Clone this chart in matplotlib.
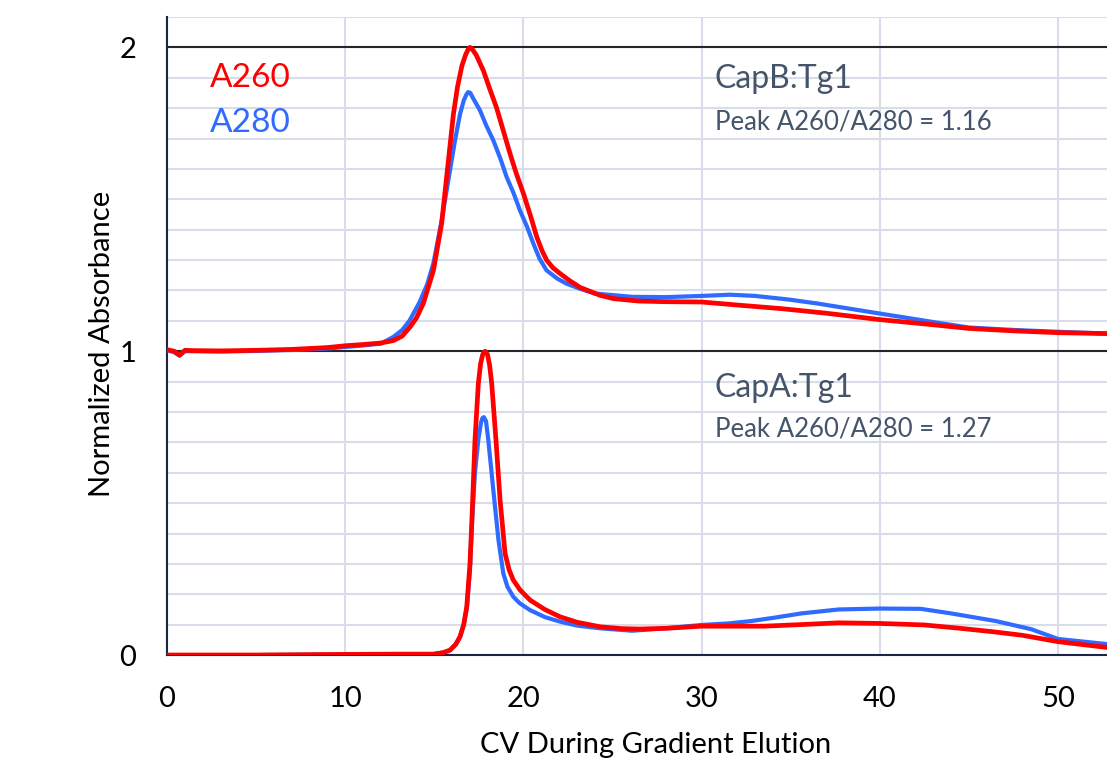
import matplotlib
matplotlib.use('Agg')
import matplotlib.pyplot as plt
import numpy as np

plt.rcParams['font.family'] = ['Lato', 'DejaVu Sans']

RED = '#FF0000'
BLUE = '#2F6BFF'
NOTE = '#44546A'
GRID = '#D9DCE9'

# CapB:Tg1 traces (normalized, drawn shifted up by 1)
capb_offset = 1.0
capb_a260_x = [0, 0.4, 0.7, 1.0, 1.5, 3, 5, 7, 9, 10, 11, 12, 12.7, 13.2, 13.64, 14.0, 14.38,
               14.95, 15.41, 15.73, 16.07, 16.3, 16.55, 16.75, 16.9, 17.0, 17.12, 17.35, 17.75,
               18.1, 18.5, 18.9, 19.25, 19.6, 20.0, 20.4, 20.75, 21.05, 21.3, 21.65, 22.05, 22.6,
               23.18, 24.3, 25.06, 26.5, 28, 30, 32, 34.5, 37, 40, 42.5, 45, 47.5, 50, 52.75]
capb_a260_y = [0.005, 0.0, -0.013, 0.003, 0.002, 0.001, 0.003, 0.006, 0.012, 0.018, 0.022, 0.027,
               0.035, 0.05, 0.08, 0.11, 0.157, 0.266, 0.42, 0.595, 0.78, 0.87, 0.94, 0.975, 0.994,
               1.0, 0.995, 0.975, 0.924, 0.865, 0.80, 0.72, 0.65, 0.585, 0.519, 0.445, 0.376,
               0.33, 0.30, 0.275, 0.256, 0.232, 0.21, 0.184, 0.173, 0.165, 0.163, 0.162, 0.152,
               0.14, 0.125, 0.104, 0.09, 0.075, 0.067, 0.061, 0.058]
capb_a280_x = [0, 0.4, 0.7, 1.0, 1.5, 3, 5, 7, 9, 10, 11, 12, 12.7, 13.2, 13.6, 14.16, 14.6,
               14.95, 15.41, 15.85, 16.16, 16.44, 16.65, 16.8, 16.9, 17.02, 17.2, 17.56, 17.9,
               18.31, 18.7, 19.06, 19.45, 19.8, 20.2, 20.56, 20.9, 21.3, 21.9, 22.43, 23.2, 24.0,
               26.1, 28, 30, 31.6, 33, 34.9, 36.5, 38.3, 40, 42.9, 45, 47.5, 50, 52.75]
capb_a280_y = [0.003, -0.003, -0.015, 0.0, 0.0, -0.001, 0.001, 0.004, 0.009, 0.014, 0.019, 0.025,
               0.047, 0.07, 0.10, 0.16, 0.22, 0.29, 0.43, 0.585, 0.694, 0.78, 0.825, 0.845, 0.853,
               0.85, 0.83, 0.793, 0.745, 0.694, 0.635, 0.573, 0.52, 0.464, 0.41, 0.354, 0.305,
               0.266, 0.239, 0.222, 0.205, 0.19, 0.179, 0.178, 0.182, 0.186, 0.182, 0.17, 0.157,
               0.14, 0.124, 0.097, 0.078, 0.07, 0.064, 0.058]

# CapA:Tg1 traces
capa_a260_x = [0, 5, 10, 13, 14.95, 15.5, 15.88, 16.2, 16.44, 16.65, 16.82, 17.0, 17.1, 17.28,
               17.47, 17.6, 17.72, 17.85, 17.98, 18.1, 18.22, 18.46, 18.69, 18.97, 19.2, 19.43,
               19.8, 20.37, 21.2, 22.05, 23.0, 24.3, 25.5, 26.5, 28, 30, 32, 33.5, 35.5, 37.7,
               40, 42.5, 44.5, 46.3, 48, 50, 52.75]
capa_a260_y = [0, 0.0, 0.002, 0.003, 0.003, 0.008, 0.016, 0.035, 0.06, 0.10, 0.159, 0.30, 0.433,
               0.707, 0.894, 0.96, 0.99, 1.0, 0.99, 0.955, 0.894, 0.707, 0.51, 0.334, 0.28,
               0.247, 0.215, 0.181, 0.15, 0.126, 0.108, 0.093, 0.087, 0.0855, 0.088, 0.095,
               0.095, 0.095, 0.1, 0.106, 0.104, 0.099, 0.088, 0.077, 0.065, 0.044, 0.025]
capa_a280_x = [0, 5, 10, 13, 14.95, 15.5, 15.88, 16.2, 16.44, 16.65, 16.82, 17.0, 17.1, 17.28,
               17.47, 17.62, 17.7, 17.78, 17.9, 18.03, 18.31, 18.6, 18.87, 19.1, 19.43, 19.8,
               20.37, 21.2, 22.05, 23.0, 24.3, 26.1, 28, 30, 31.5, 32.8, 34.2, 35.6, 37.7, 40,
               42.3, 44, 46.5, 48.5, 50, 52.75]
capa_a280_y = [0, 0, 0.002, 0.003, 0.003, 0.008, 0.016, 0.035, 0.06, 0.10, 0.155, 0.28, 0.42,
               0.60, 0.71, 0.765, 0.78, 0.783, 0.77, 0.707, 0.543, 0.378, 0.269, 0.225, 0.192,
               0.17, 0.148, 0.125, 0.11, 0.097, 0.088, 0.08, 0.088, 0.099, 0.104, 0.112, 0.124,
               0.137, 0.15, 0.153, 0.152, 0.137, 0.112, 0.085, 0.053, 0.036]

fig = plt.figure(figsize=(11.07, 7.63), dpi=100)
ax = fig.add_axes([0.1509, 0.1415, 0.8491, 0.8362])

ax.set_xlim(0, 52.75)
ax.set_ylim(0, 2.1)

# light grid: every 10 CV vertically, every 0.1 horizontally
for gx in range(10, 51, 10):
    ax.axvline(gx, color=GRID, linewidth=1.5, zorder=0)
for gy in np.arange(0.1, 2.15, 0.1):
    ax.axhline(gy, color=GRID, linewidth=1.5, zorder=0)
ax.axhline(1, color='#262626', linewidth=1.5, zorder=1)
ax.axhline(2, color='#262626', linewidth=1.5, zorder=1)

ax.plot(capa_a280_x, capa_a280_y, color=BLUE, linewidth=3.0, solid_joinstyle='round',
        solid_capstyle='round', zorder=3)
ax.plot(capa_a260_x, capa_a260_y, color=RED, linewidth=3.4, solid_joinstyle='round',
        solid_capstyle='round', zorder=4)
ax.plot(capb_a280_x, np.array(capb_a280_y) + capb_offset, color=BLUE, linewidth=3.0,
        solid_joinstyle='round', solid_capstyle='round', zorder=3)
ax.plot(capb_a260_x, np.array(capb_a260_y) + capb_offset, color=RED, linewidth=3.4,
        solid_joinstyle='round', solid_capstyle='round', zorder=4)

ax.set_xticks([0, 10, 20, 30, 40, 50])
ax.set_yticks([0, 1, 2])
ax.tick_params(axis='both', length=0, labelsize=21, labelcolor='black')
ax.tick_params(axis='x', pad=22)
ax.tick_params(axis='y', pad=22)

for side in ['top', 'right']:
    ax.spines[side].set_visible(False)
ax.spines['left'].set_color('#1B2545')
ax.spines['bottom'].set_color('#1B2545')
ax.spines['left'].set_linewidth(1.5)
ax.spines['bottom'].set_linewidth(1.5)

ax.set_xlabel('CV During Gradient Elution', fontsize=21, labelpad=15)
ax.set_ylabel('Normalized Absorbance', fontsize=21, labelpad=3)
ax.xaxis.label.set_x(0.52)
ax.yaxis.label.set_y(0.488)

ax.text(2.4, 1.90, 'A260', color=RED, fontsize=24, va='center', ha='left')
ax.text(2.4, 1.75, 'A280', color=BLUE, fontsize=24, va='center', ha='left')

ax.text(30.75, 1.895, 'CapB:Tg1', color=NOTE, fontsize=23, va='center', ha='left')
ax.text(30.75, 1.755, 'Peak A260/A280 = 1.16', color=NOTE, fontsize=18.5, va='center', ha='left')
ax.text(30.75, 0.88, 'CapA:Tg1', color=NOTE, fontsize=23, va='center', ha='left')
ax.text(30.75, 0.745, 'Peak A260/A280 = 1.27', color=NOTE, fontsize=18.5, va='center', ha='left')

plt.savefig('out.png', dpi=100)
